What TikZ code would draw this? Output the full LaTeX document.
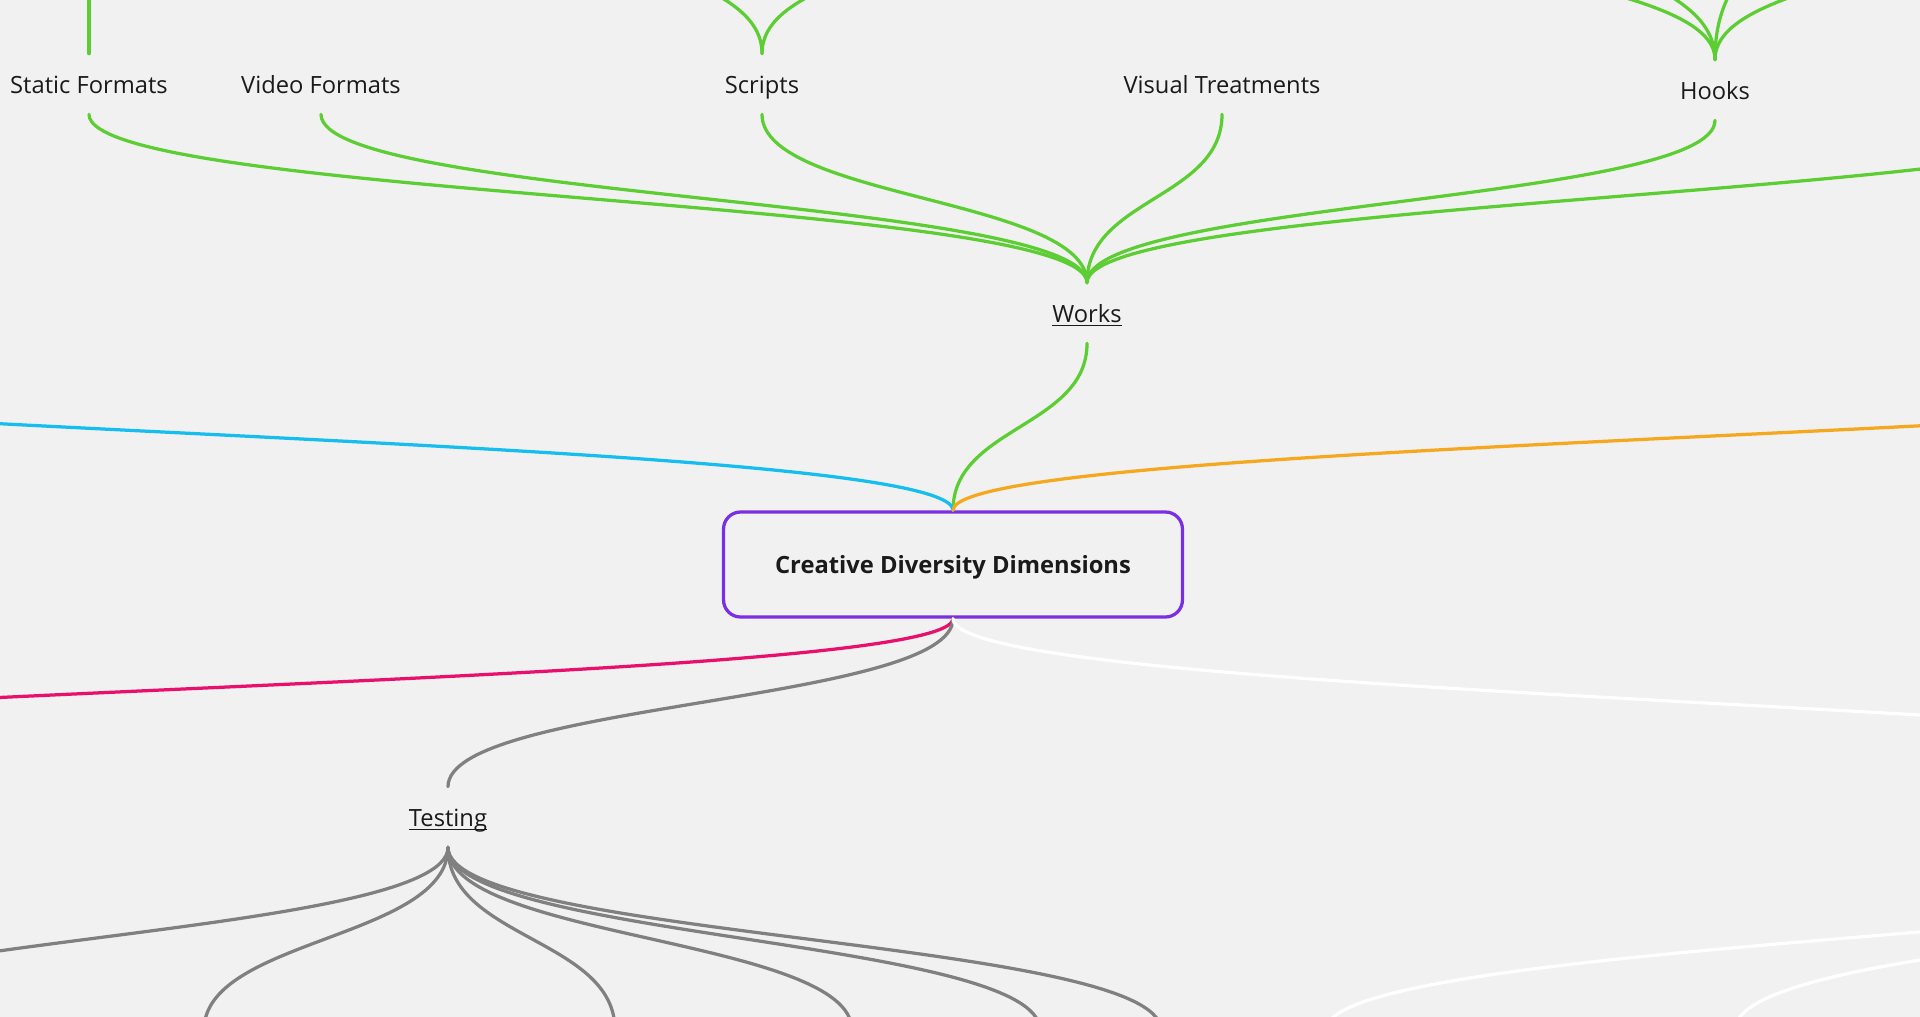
\documentclass[tikz,border=0pt]{standalone}
\usepackage{fontspec}
\setmainfont{Open Sans}
\usetikzlibrary{calc}
\definecolor{bgc}{RGB}{241,241,241}
\definecolor{mgreen}{RGB}{92,206,52}
\definecolor{mblue}{RGB}{22,190,240}
\definecolor{morange}{RGB}{245,168,30}
\definecolor{mpink}{RGB}{232,16,108}
\definecolor{mgray}{RGB}{128,128,128}
\definecolor{mpurple}{RGB}{123,47,226}
\definecolor{mtext}{RGB}{26,26,26}
\newcommand\myul[1]{\setbox0\hbox{#1}\rlap{\rule[-2.4pt]{\wd0}{0.75pt}}\box0}
\newcommand\mmlink[3]{\draw[link,#1] let \p1=(#2), \p2=(#3) in (\p1) .. controls (\x1,{0.5*\y1+0.5*\y2}) and (\x2,{0.5*\y1+0.5*\y2}) .. (\p2);}
\begin{document}
\begin{tikzpicture}[x=0.02cm,y=-0.02cm,
  link/.style={line width=1.85pt,line cap=round},
  lbl/.style={font=\fontsize{13.5}{16}\selectfont, text=mtext, minimum height=1.2cm, inner sep=0pt, text height=12.4pt, text depth=2pt}]
\fill[bgc] (0,0) rectangle (1920,1017);
\useasboundingbox (0,0) rectangle (1920,1017);
\clip (0,0) rectangle (1920,1017);
% nodes
\node[lbl] (sf) at (89,84) {Static Formats};
\node[lbl] (vf) at (321,84) {Video Formats};
\node[lbl] (sc) at (762,84) {Scripts};
\node[lbl] (vt) at (1222,84) {Visual Treatments};
\node[lbl] (hk) at (1715,90) {Hooks};
\node[lbl] (wk) at (1087,313) {\myul{Works}};
\node[lbl] (ts) at (448,817) {\myul{Testing}};
\node[draw=mpurple, line width=1.85pt, rounded corners=0.34cm, minimum width=9.18cm, minimum height=2.1cm,
  font=\bfseries\fontsize{13.5}{16}\selectfont, text=mtext, text height=12.4pt, text depth=2pt] (cd) at (953,564.5) {Creative Diversity Dimensions};
% free ends outside the frame
\coordinate (gR) at (2150,110);
\coordinate (sfp) at (89,-100);
\coordinate (scpL) at (600,-100);
\coordinate (scpR) at (940,-100);
\coordinate (hkp1) at (1404,-100);
\coordinate (hkp2) at (1569,-100);
\coordinate (hkp3) at (1759,-100);
\coordinate (hkp4) at (1971,-100);
\coordinate (bL) at (-600,355);
\coordinate (oR) at (2506,360);
\coordinate (pL) at (-600,760);
\coordinate (wR) at (2506,790);
\coordinate (tL) at (-250,1028);
\coordinate (t1) at (204,1030);
\coordinate (t2) at (615,1030);
\coordinate (t3) at (852,1030);
\coordinate (t4) at (1040,1030);
\coordinate (t5) at (1161,1030);
\coordinate (wh) at (2500,835);
\coordinate (w1) at (1326,1030);
\coordinate (w2) at (1735,1030);
% links
\mmlink{mgreen}{sf.north}{sfp}
\mmlink{mgreen}{sc.north}{scpL}
\mmlink{mgreen}{sc.north}{scpR}
\mmlink{mgreen}{hk.north}{hkp1}
\mmlink{mgreen}{hk.north}{hkp2}
\mmlink{mgreen}{hk.north}{hkp3}
\mmlink{mgreen}{hk.north}{hkp4}
\mmlink{mgreen}{wk.north}{sf.south}
\mmlink{mgreen}{wk.north}{vf.south}
\mmlink{mgreen}{wk.north}{sc.south}
\mmlink{mgreen}{wk.north}{vt.south}
\mmlink{mgreen}{wk.north}{hk.south}
\mmlink{mgreen}{wk.north}{gR}
\mmlink{mgreen}{cd.north}{wk.south}
\mmlink{mblue}{cd.north}{bL}
\mmlink{morange}{cd.north}{oR}
\mmlink{mpink}{cd.south}{pL}
\mmlink{mgray}{cd.south}{ts.north}
\mmlink{white}{cd.south}{wR}
\mmlink{mgray}{ts.south}{tL}
\mmlink{mgray}{ts.south}{t1}
\mmlink{mgray}{ts.south}{t2}
\mmlink{mgray}{ts.south}{t3}
\mmlink{mgray}{ts.south}{t4}
\mmlink{mgray}{ts.south}{t5}
\mmlink{white}{w1}{wh}
\mmlink{white}{w2}{wh}
\end{tikzpicture}
\end{document}
